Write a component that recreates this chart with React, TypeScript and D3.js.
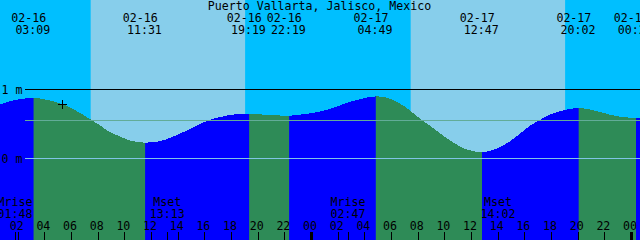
import React from 'react';
import * as d3 from 'd3';

const W = 640;
const H = 240;
const TITLE = 'Puerto Vallarta, Jalisco, Mexico';

// Tide extremes (high / low) shown along the top
const tideTimes = ['2025-02-16T03:09', '2025-02-16T11:31', '2025-02-16T19:19', '2025-02-16T22:19', '2025-02-17T04:49', '2025-02-17T12:47', '2025-02-17T20:02', '2025-02-18T00:20'];
const tideHeights = [0.88, 0.23, 0.65, 0.62, 0.9, 0.09, 0.73, 0.59];
const tideTypes = ['H', 'L', 'H', 'L', 'H', 'L', 'H', 'L'];

// Water level readings taken from the curve between the extremes (m)
const readTimes = [
  '2025-02-16T00:38', '2025-02-16T01:23', '2025-02-16T02:08', '2025-02-16T04:23', '2025-02-16T05:17', '2025-02-16T05:53',
  '2025-02-16T06:38', '2025-02-16T07:23', '2025-02-16T08:08', '2025-02-16T08:53', '2025-02-16T09:38', '2025-02-16T10:23',
  '2025-02-16T12:38', '2025-02-16T13:23', '2025-02-16T14:08', '2025-02-16T14:53', '2025-02-16T15:38', '2025-02-16T16:23',
  '2025-02-16T17:08', '2025-02-16T17:53', '2025-02-16T18:38', '2025-02-16T20:08', '2025-02-16T20:53', '2025-02-16T23:08',
  '2025-02-16T23:53', '2025-02-17T00:38', '2025-02-17T01:23', '2025-02-17T02:08', '2025-02-17T02:53', '2025-02-17T03:38',
  '2025-02-17T05:31', '2025-02-17T06:16', '2025-02-17T07:01', '2025-02-17T07:46', '2025-02-17T08:31', '2025-02-17T09:16',
  '2025-02-17T10:01', '2025-02-17T10:46', '2025-02-17T11:31', '2025-02-17T13:23', '2025-02-17T14:08', '2025-02-17T14:53',
  '2025-02-17T15:38', '2025-02-17T16:23', '2025-02-17T17:08', '2025-02-17T17:53', '2025-02-17T18:38', '2025-02-17T19:23',
  '2025-02-17T20:53', '2025-02-17T21:38', '2025-02-17T22:23', '2025-02-17T23:08', '2025-02-18T00:38',
];
const readHeights = [
  0.78, 0.83, 0.86, 0.84, 0.79, 0.74,
  0.66, 0.57, 0.48, 0.38, 0.32, 0.26,
  0.25, 0.3, 0.36, 0.43, 0.5, 0.56,
  0.6, 0.63, 0.645, 0.64, 0.63, 0.635,
  0.655, 0.68, 0.72, 0.77, 0.82, 0.86,
  0.89, 0.83, 0.75, 0.635, 0.525, 0.42,
  0.31, 0.215, 0.14, 0.11, 0.165, 0.25,
  0.36, 0.475, 0.56, 0.635, 0.685, 0.72,
  0.71, 0.675, 0.635, 0.605, 0.59,
];

// Sun (day shading) and moon events
const sunriseTimes = ['2025-02-16T07:26', '2025-02-17T07:26'];
const sunsetTimes = ['2025-02-16T19:01', '2025-02-17T19:01'];
const moonTimes = ['2025-02-16T01:48', '2025-02-16T13:13', '2025-02-17T02:47', '2025-02-17T14:02'];
const moonNames = ['Mrise', 'Mset', 'Mrise', 'Mset'];

// Depth reference lines
const depthLevels = [1, 0];
const depthLabels = ['1 m', '0 m'];
const meanLevel = 0.55;

// Current time marker
const nowTime = '2025-02-16T05:20';
const nowHeight = 0.78;

const START = '2025-02-16T00:38';
const END = '2025-02-18T00:38';

const COLORS = {
  day: '#87ceeb',
  night: '#00bfff',
  rise: '#0000ff',
  fall: '#2e8b57',
  mean: '#62ac98',
  zero: '#80c4e6',
  text: '#000000',
};
const FONT = '"DejaVu Sans Mono", "Liberation Mono", monospace';
const FS = 11.6;

const parse = (s: string) => new Date(s + ':00Z');
const fmtDate = d3.utcFormat('%m-%d');
const fmtTime = d3.utcFormat('%H:%M');

export default function App() {
  const x = d3.scaleUtc().domain([parse(START), parse(END)]).range([0, W]);
  const y = d3.scaleLinear().domain([0, 1]).range([158.5, 89.5]);

  const extremes = tideTimes.map((t, i) => ({ t: parse(t), h: tideHeights[i], type: tideTypes[i] }));
  const pts = [
    ...extremes.map((e) => ({ t: e.t, h: e.h })),
    ...readTimes.map((t, i) => ({ t: parse(t), h: readHeights[i] })),
  ].sort((a, b) => +a.t - +b.t);

  const area = d3
    .area<{ t: Date; h: number }>()
    .x((d) => x(d.t))
    .y0(H)
    .y1((d) => y(d.h))
    .curve(d3.curveMonotoneX);
  const areaPath = area(pts) || '';

  // falling intervals: from each high to the following low
  const falling: [number, number][] = [];
  extremes.forEach((e, i) => {
    if (e.type === 'H') {
      const next = extremes[i + 1];
      falling.push([x(e.t), next ? x(next.t) : W]);
    }
  });

  const hourTicks = x.ticks(d3.utcHour.every(2) as any);
  const fmtHour = d3.utcFormat('%H');

  const textProps = { fontFamily: FONT, fontSize: FS, fill: COLORS.text } as const;

  return (
    <svg width={W} height={H} style={{ position: 'absolute', left: 0, top: 0, display: 'block' }}>
      <defs>
        <clipPath id="fallclip">
          {falling.map(([a, b], i) => (
            <rect key={i} x={a} y={0} width={b - a} height={H} />
          ))}
        </clipPath>
      </defs>
      {/* background: night, then day bands */}
      <rect x={0} y={0} width={W} height={H} fill={COLORS.night} />
      {sunriseTimes.map((s, i) => {
        const a = x(parse(s));
        const b = x(parse(sunsetTimes[i]));
        return <rect key={i} x={a} y={0} width={b - a} height={H} fill={COLORS.day} />;
      })}
      {/* tide fill */}
      <path d={areaPath} fill={COLORS.rise} shapeRendering="crispEdges" />
      <path d={areaPath} fill={COLORS.fall} clipPath="url(#fallclip)" shapeRendering="crispEdges" />

      {/* reference lines */}
      <line x1={25} x2={W} y1={y(meanLevel)} y2={y(meanLevel)} stroke={COLORS.mean} strokeWidth={1} shapeRendering="crispEdges" />
      {depthLevels.map((lv, i) => (
        <g key={i}>
          <line x1={25} x2={W} y1={y(lv)} y2={y(lv)} stroke={lv === 0 ? COLORS.zero : '#000'} strokeWidth={1} shapeRendering="crispEdges" />
          <text x={1.5} y={y(lv) + 4} {...textProps}>
            {depthLabels[i]}
          </text>
        </g>
      ))}

      {/* now marker */}
      <g stroke="#000" strokeWidth={1} shapeRendering="crispEdges">
        <line x1={x(parse(nowTime)) - 4.5} x2={x(parse(nowTime)) + 4.5} y1={y(nowHeight)} y2={y(nowHeight)} />
        <line x1={x(parse(nowTime))} x2={x(parse(nowTime))} y1={y(nowHeight) - 4.5} y2={y(nowHeight) + 4.5} />
      </g>

      {/* title */}
      <text x={319.5} y={10} textAnchor="middle" {...textProps}>
        {TITLE}
      </text>

      {/* tide extreme labels */}
      {extremes.map((e, i) => (
        <g key={i}>
          <text x={x(e.t) - 4.8} y={22} textAnchor="middle" {...textProps}>
            {fmtDate(e.t)}
          </text>
          <text x={x(e.t) - 0.7} y={33.5} textAnchor="middle" {...textProps}>
            {fmtTime(e.t)}
          </text>
        </g>
      ))}

      {/* moon labels */}
      {moonTimes.map((m, i) => {
        const d = parse(m);
        const mx = x(d);
        return (
          <g key={i}>
            <text x={mx - 0.6} y={205.5} textAnchor="middle" {...textProps}>
              {moonNames[i]}
            </text>
            <text x={mx - 0.6} y={217.5} textAnchor="middle" {...textProps}>
              {fmtTime(d)}
            </text>
            <rect x={Math.floor(mx)} y={232} width={1} height={8} fill="#000" />
          </g>
        );
      })}

      {/* hour ticks */}
      {hourTicks.map((d, i) => {
        const hx = x(d);
        const midnight = d.getUTCHours() === 0;
        return (
          <g key={i}>
            <text x={hx - 1.5} y={229.5} textAnchor="middle" {...textProps}>
              {fmtHour(d)}
            </text>
            <rect x={midnight ? Math.floor(hx) - 1 : Math.floor(hx)} y={232} width={midnight ? 3 : 1} height={8} fill="#000" />
          </g>
        );
      })}
    </svg>
  );
}
